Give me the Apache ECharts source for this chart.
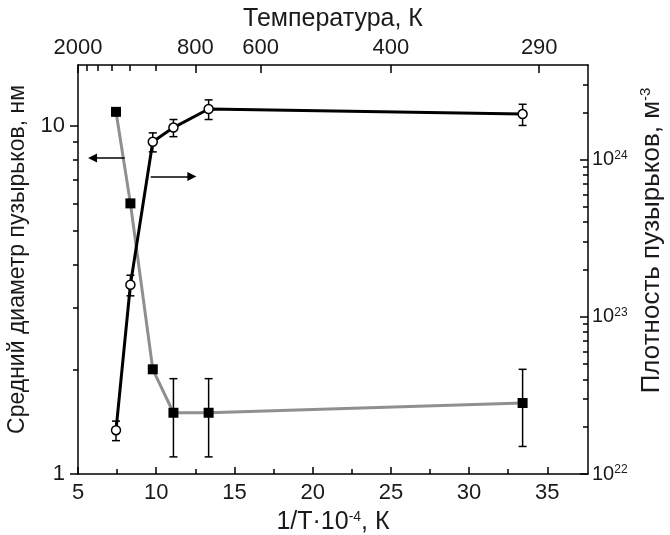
<!DOCTYPE html>
<html>
<head>
<meta charset="utf-8">
<script src="https://cdn.jsdelivr.net/npm/echarts@6/dist/echarts.min.js"></script>
<style>
html, body { margin: 0; padding: 0; background: #fff; }
#chart { width: 670px; height: 535px; }
</style>
</head>
<body>
<div id="chart"></div>
<script>
// 1/T·10^4 для точек
var invT = [7.43, 8.35, 9.78, 11.1, 13.35, 33.42];
// средний диаметр, нм (квадраты, левая ось)
var diameter = [11.0, 6.0, 2.0, 1.5, 1.5, 1.6];
var diameterErr = [0, 0, 0, 0.38, 0.38, 0.4];
// плотность, м^-3 (кружки, правая ось)
var density = [1.9e22, 1.6e23, 1.3e24, 1.6e24, 2.1e24, 1.95e24];
var densityErr = [0.27e22, 0.24e23, 0.18e24, 0.2e24, 0.3e24, 0.3e24];

// подписи осей
var bottomTicks = [5, 10, 15, 20, 25, 30, 35];
var bottomMinor = [7.5, 12.5, 17.5, 22.5, 27.5, 32.5];
var topTemps = [2000, 800, 600, 400, 290];
var topTempsMinor = [1800, 1600, 1400, 1200, 1000];
var leftTicks = [1, 10];
var leftMinor = [2, 3, 4, 5, 6, 7, 8, 9];
var rightTicks = [1e22, 1e23, 1e24];
var rightMinor = [2e22, 3e22, 4e22, 5e22, 6e22, 7e22, 8e22, 9e22,
    2e23, 3e23, 4e23, 5e23, 6e23, 7e23, 8e23, 9e23, 2e24, 3e24];

// стрелки (в координатах данных)
var arrowDiam = [[7.98, 8.1], [5.93, 8.1]];
var arrowDens = [[9.65, 7.8e23], [12.28, 7.8e23]];

var xMin = 5, xMax = 37.6;
var leftMin = 1, leftMax = 15;
var rightMin = 1e22, rightMax = 4e24;

var font = 'Liberation Sans, Arial, sans-serif';
var txt = '#1a1a1a';

function lg(v) { return Math.log10(v); }

function errorSeries(ys, errs, yIdx) {
    var data = [];
    invT.forEach(function (x, i) {
        if (errs[i] > 0) data.push([x, ys[i] - errs[i], ys[i] + errs[i]]);
    });
    return {
        type: 'custom',
        xAxisIndex: 0,
        yAxisIndex: yIdx,
        z: 2,
        silent: true,
        encode: { x: 0, y: [1, 2] },
        data: data,
        renderItem: function (params, api) {
            var lo = api.coord([api.value(0), api.value(1)]);
            var hi = api.coord([api.value(0), api.value(2)]);
            var w = 4;
            var st = { stroke: '#000', lineWidth: 1.5 };
            return {
                type: 'group',
                children: [
                    { type: 'line', shape: { x1: lo[0], y1: lo[1], x2: hi[0], y2: hi[1] }, style: st },
                    { type: 'line', shape: { x1: lo[0] - w, y1: lo[1], x2: lo[0] + w, y2: lo[1] }, style: st },
                    { type: 'line', shape: { x1: hi[0] - w, y1: hi[1], x2: hi[0] + w, y2: hi[1] }, style: st }
                ]
            };
        }
    };
}

var axisLine = { show: true, lineStyle: { color: '#000', width: 1.5 } };
var noLine = { show: false };
var tickStyle = { color: '#000', width: 1.5 };

function ticks(inside, len, vals) {
    return { show: true, inside: inside, length: len, lineStyle: tickStyle, customValues: vals };
}

var chart = echarts.init(document.getElementById('chart'));
chart.setOption({
    animation: false,
    backgroundColor: '#fff',
    textStyle: { fontFamily: font },
    grid: { left: 78, right: 82, top: 65, bottom: 61, containLabel: false, outerBoundsMode: 'none' },
    xAxis: [{
        // нижняя ось 1/T
        type: 'value', min: xMin, max: xMax, position: 'bottom',
        axisLine: axisLine, splitLine: { show: false },
        axisTick: ticks(true, 7, bottomTicks),
        axisLabel: { customValues: bottomTicks, fontSize: 22, color: txt, margin: 8 },
        name: '1/T·10{s|-4}, К', nameLocation: 'middle', nameGap: 36,
        nameTextStyle: { fontSize: 25, color: txt, rich: { s: { fontSize: 14, verticalAlign: 'top', color: txt } } }
    }, {
        type: 'value', min: xMin, max: xMax, position: 'bottom',
        axisLine: noLine, splitLine: { show: false }, axisLabel: { show: false },
        axisTick: ticks(true, 5, bottomMinor)
    }, {
        // верхняя ось температуры
        type: 'value', min: xMin, max: xMax, position: 'top',
        axisLine: axisLine, splitLine: { show: false },
        axisTick: ticks(true, 8, topTemps.map(function (t) { return 1e4 / t; })),
        axisLabel: {
            customValues: topTemps.map(function (t) { return 1e4 / t; }),
            formatter: function (v) { return String(Math.round(1e4 / v)); },
            fontSize: 22, color: txt, margin: 6
        },
        name: 'Температура, К', nameLocation: 'middle', nameGap: 32,
        nameTextStyle: { fontSize: 25, color: txt }
    }, {
        type: 'value', min: xMin, max: xMax, position: 'top',
        axisLine: noLine, splitLine: { show: false }, axisLabel: { show: false },
        axisTick: ticks(true, 6, topTempsMinor.map(function (t) { return 1e4 / t; }))
    }],
    yAxis: [{
        // логарифмические оси для данных
        type: 'log', min: leftMin, max: leftMax, show: false
    }, {
        type: 'log', min: rightMin, max: rightMax, show: false
    }, {
        // левая ось (десятичный логарифм)
        type: 'value', min: 0, max: lg(leftMax), position: 'left',
        axisLine: axisLine, splitLine: { show: false },
        axisTick: ticks(false, 8, leftTicks.map(lg)),
        axisLabel: {
            customValues: leftTicks.map(lg),
            formatter: function (v) { return String(Math.round(Math.pow(10, v))); },
            fontSize: 22, color: txt, margin: 13
        },
        name: 'Средний диаметр пузырьков, нм', nameLocation: 'middle', nameGap: 39, nameRotate: 90,
        nameTextStyle: { fontSize: 23, color: txt, padding: [0, 0, 0, 20] }
    }, {
        type: 'value', min: 0, max: lg(leftMax), position: 'left',
        axisLine: noLine, splitLine: { show: false }, axisLabel: { show: false },
        axisTick: ticks(false, 5, leftMinor.map(lg))
    }, {
        // правая ось плотности
        type: 'value', min: lg(rightMin), max: lg(rightMax), position: 'right',
        axisLine: axisLine, splitLine: { show: false },
        axisTick: ticks(true, 8, rightTicks.map(lg)),
        axisLabel: {
            customValues: rightTicks.map(lg),
            formatter: function (v) { return '{b|10}{s|' + Math.round(v) + '}'; },
            margin: 4,
            rich: {
                b: { fontSize: 20, color: txt },
                s: { fontSize: 12, color: txt, verticalAlign: 'top' }
            }
        },
        name: 'Плотность пузырьков, м{s|-3}', nameLocation: 'middle', nameGap: 42, nameRotate: 90,
        nameTextStyle: { fontSize: 26, color: txt, padding: [0, 0, 0, 58], rich: { s: { fontSize: 15, verticalAlign: 'top', color: txt } } }
    }, {
        type: 'value', min: lg(rightMin), max: lg(rightMax), position: 'right',
        axisLine: noLine, splitLine: { show: false }, axisLabel: { show: false },
        axisTick: ticks(true, 5, rightMinor.map(lg))
    }],
    series: [
        errorSeries(diameter, diameterErr, 0),
        errorSeries(density, densityErr, 1),
        {
            type: 'line',
            xAxisIndex: 0, yAxisIndex: 0, z: 3,
            data: invT.map(function (x, i) { return [x, diameter[i]]; }),
            symbol: 'rect', symbolSize: 10,
            lineStyle: { color: '#8f8f8f', width: 3 },
            itemStyle: { color: '#000' },
            markLine: {
                silent: true, symbol: ['none', 'triangle'], symbolSize: 9,
                lineStyle: { color: '#000', width: 1.5, type: 'solid' },
                label: { show: false },
                data: [[{ coord: arrowDiam[0] }, { coord: arrowDiam[1] }]]
            }
        },
        {
            type: 'line',
            xAxisIndex: 0, yAxisIndex: 1, z: 4,
            data: invT.map(function (x, i) { return [x, density[i]]; }),
            symbol: 'circle', symbolSize: 9,
            lineStyle: { color: '#000', width: 3 },
            itemStyle: { color: '#fff', borderColor: '#000', borderWidth: 1.5 },
            markLine: {
                silent: true, symbol: ['none', 'triangle'], symbolSize: 9,
                lineStyle: { color: '#000', width: 1.5, type: 'solid' },
                label: { show: false },
                data: [[{ coord: arrowDens[0] }, { coord: arrowDens[1] }]]
            }
        }
    ]
});
</script>
</body>
</html>
